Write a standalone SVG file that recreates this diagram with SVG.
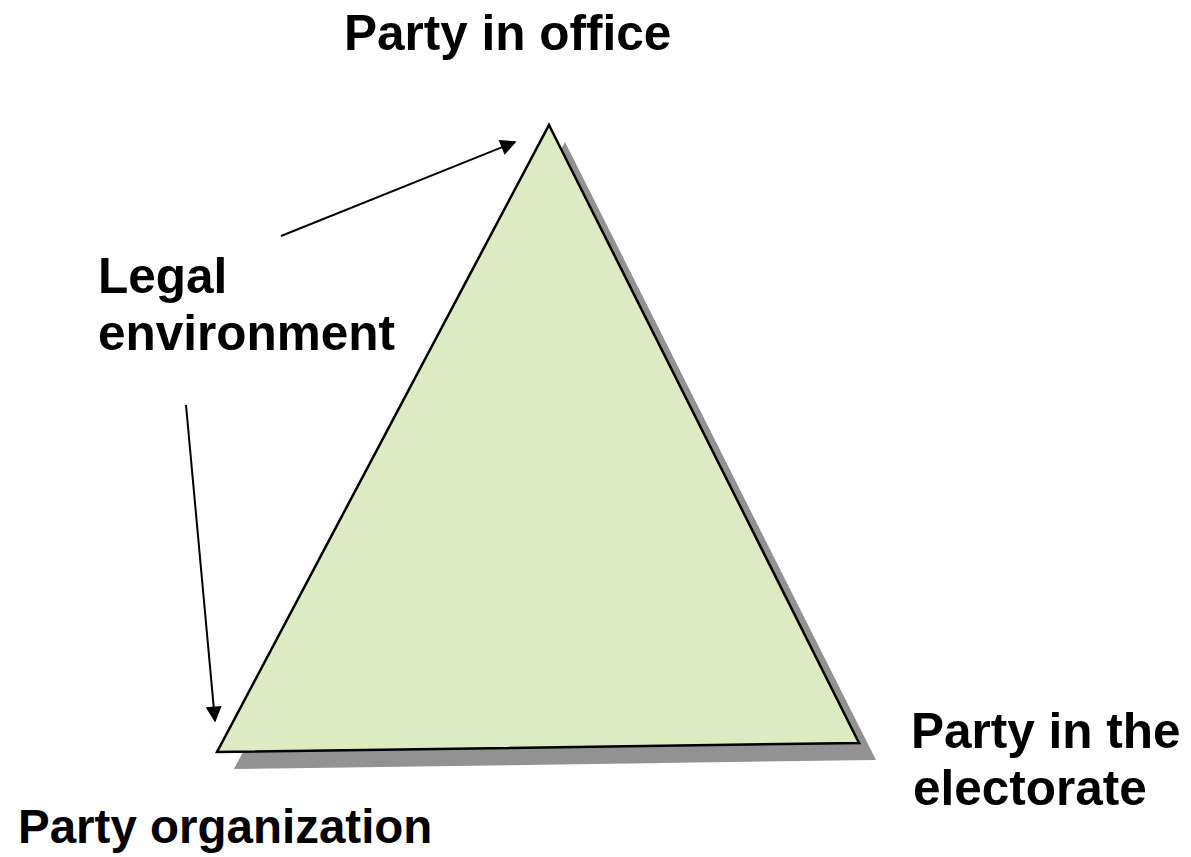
<svg xmlns="http://www.w3.org/2000/svg" width="1191" height="857" viewBox="0 0 1191 857">
<style>
text{font-family:"Liberation Sans",Arial,sans-serif;font-weight:bold;font-size:49.5px;fill:#000}
.conn{stroke:#000;stroke-width:2;fill:none}
</style>
<defs>
<marker id="ah" viewBox="0 0 10 10" refX="9" refY="5" markerWidth="8.5" markerHeight="8" markerUnits="strokeWidth" orient="auto">
<path d="M0,0 L10,5 L0,10 z" fill="#000"/>
</marker>
</defs>
<rect width="1191" height="857" fill="#fff"/>
<g id="triangle">
<polygon points="565,142 876,760 234,769" fill="#929292"/>
<polygon points="549,125 859,743 217,752" fill="#DDEBC3" stroke="#000" stroke-width="2.5" stroke-linejoin="miter"/>
</g>
<g id="connectors">
<line class="conn" x1="281" y1="236" x2="515" y2="142" marker-end="url(#ah)"/>
<line class="conn" x1="186" y1="405" x2="215" y2="721" marker-end="url(#ah)"/>
</g>
<g id="party-in-office"><text x="344" y="50">Party in office</text></g>
<g id="legal-environment"><text x="98" y="293">Legal</text><text x="98" y="350">environment</text></g>
<g id="party-in-electorate"><text x="911" y="748">Party in the</text><text x="913" y="805">electorate</text></g>
<g id="party-organization"><text x="18" y="843" style="font-size:47.5px">Party organization</text></g>
</svg>
